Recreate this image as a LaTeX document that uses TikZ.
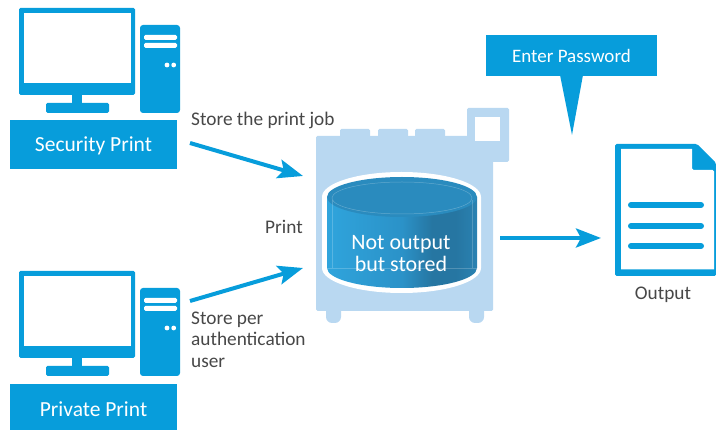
\documentclass[tikz,border=0pt]{standalone}
\usepackage{fontspec}
\setmainfont{Carlito}
\usetikzlibrary{arrows.meta,shadings}
\definecolor{cy}{HTML}{079DDB}
\definecolor{lb}{HTML}{B9D8F1}
\definecolor{tx}{HTML}{474747}
\definecolor{cyA}{HTML}{2FA4DC}
\definecolor{cyB}{HTML}{2B92C8}
\definecolor{cyC}{HTML}{2676A2}
\definecolor{cyD}{HTML}{2A82B2}
\definecolor{cyE}{HTML}{267AA8}
\definecolor{cyT}{HTML}{2A8BBE}
\pgfdeclarehorizontalshading{cyl}{100bp}{
 color(0bp)=(cyA); color(25bp)=(cyA); color(50bp)=(cyB); color(60bp)=(cyC);color(68bp)=(cyC);color(75bp)=(cyD);color(100bp)=(cyE)}
\tikzset{x=1pt,y=-1pt,
 fillc/.style={fill=cy,draw=none,rounded corners=1.5pt},
 lbl/.style={font=\fontsize{19.3}{21.5}\selectfont,text=tx,inner sep=0pt},
 wh/.style={font=\fontsize{21.5}{22}\selectfont,text=white,inner sep=0pt},
 light/.style={fill=lb,draw=none,rounded corners=1.5pt},
 conn/.style={draw=cy,line width=4pt,-{Stealth[length=25pt,width=19pt,inset=5pt]}},
 docline/.style={draw=cy,line width=6pt,line cap=round},
 pc/.pic={
  \fill[fillc] (19,8) rectangle (135,95);
  \fill[white] (24,13) rectangle (131,83);
  \fill[cy] (72,95) rectangle (82,104);
  \fill[fillc] (46,103) rectangle (109,113);
  \fill[fill=cy,rounded corners=3pt] (140,25) rectangle (180,113);
  \fill[white,rounded corners=1.5pt] (144,35) rectangle (177,40);
  \fill[white,rounded corners=1.5pt] (144,43) rectangle (177,48);
  \fill[white] (167,65) circle (2.4);
  \fill[white] (173.7,65) circle (2.4);
 }}
\begin{document}
\begin{tikzpicture}
\useasboundingbox (0,0) rectangle (716,430);
\pic at (0,0) {pc};
\pic at (0,263) {pc};
\node[fill=cy,minimum width=167pt,minimum height=49pt,inner sep=0pt,wh] (sec) at (93.5,145) {\raisebox{-7pt}[0pt][0pt]{Security Print}};
\node[fill=cy,minimum width=167pt,minimum height=46pt,inner sep=0pt,wh] (pri) at (93.5,407) {\raisebox{-10pt}[0pt][0pt]{Private Print}};
% printer
\fill[light] (340,129) rectangle (370,140);
\fill[light] (378,129) rectangle (408,140);
\fill[light] (415,129) rectangle (445,140);
\fill[fill=lb,rounded corners=6pt] (326,300) rectangle (341,323);
\fill[fill=lb,rounded corners=6pt] (469,300) rectangle (484,323);
\fill[light] (316,136) rectangle (493,311);
\fill[light] (467,108) rectangle (509,162);
\fill[white] (475,117) rectangle (500,141);
% cylinder
\fill[white] (322,197) .. controls (322,183.2) and (357.6,172) .. (401.5,172) .. controls (445.4,172) and (481,183.2) .. (481,197) -- (481,268) .. controls (481,281.8) and (445.4,293) .. (401.5,293) .. controls (357.6,293) and (322,281.8) .. (322,268) -- cycle;
\path[shading=cyl,shading angle=0] (327,197) -- (327,268) .. controls (327,279) and (360.6,288) .. (402,288) .. controls (443.4,288) and (477,279) .. (477,268) -- (477,197) -- cycle;
\fill[cyT] (402,197) ellipse[x radius=75,y radius=20];
\draw[white,opacity=.25,line width=.5pt] (402,198) ellipse[x radius=70,y radius=16];
\draw[white,opacity=.2,line width=.5pt] (332,200) -- (332,268) (472,200) -- (472,268) (327,268) -- (477,268);
\node[wh,align=center,font=\fontsize{22}{22.5}\selectfont] (sto) at (401,253.5) {Not output\\but stored};
% callout
\node[fill=cy,minimum width=171pt,minimum height=41pt,inner sep=0pt,text=white,font=\fontsize{19}{20}\selectfont] (pw) at (571.5,55.5) {Enter Password};
\fill[cy] (560,75) -- (583,75) -- (572,135) -- cycle;
% document
\path[fill=cy,rounded corners=1.5pt] (615,144) -- (697,144) -- (716,163) -- (716,276) -- (615,276) -- cycle;
\path[fill=white] (621,149) -- (692,149) -- (692,165) [rounded corners=1.5pt] -- (692,170) -- (714,170) [sharp corners] -- (714,269.5) -- (621,269.5) -- cycle;
\draw[docline] (631,205) -- (701,205);
\draw[docline] (631,226) -- (701,226);
\draw[docline] (631,246) -- (701,246);
\coordinate (docin) at (601,238);
\coordinate (stout) at (500,238);
\coordinate (a1s) at (190,143);
\coordinate (a1e) at (303,176);
\coordinate (a2s) at (190,301);
\coordinate (a2e) at (303,268);
\draw[conn] (a1s) -- (a1e);
\draw[conn] (a2s) -- (a2e);
\draw[conn] (stout) -- (docin);
% labels
\node[lbl,anchor=west] (l1) at (191,120) {Store the print job};
\node[lbl,anchor=east] (l2) at (303,227) {Print};
\node[lbl,anchor=north west,align=left] (l3) at (191,311.5) {Store per\\authentication\\user};
\node[lbl] (l4) at (663,294.5) {Output};
\end{tikzpicture}
\end{document}
